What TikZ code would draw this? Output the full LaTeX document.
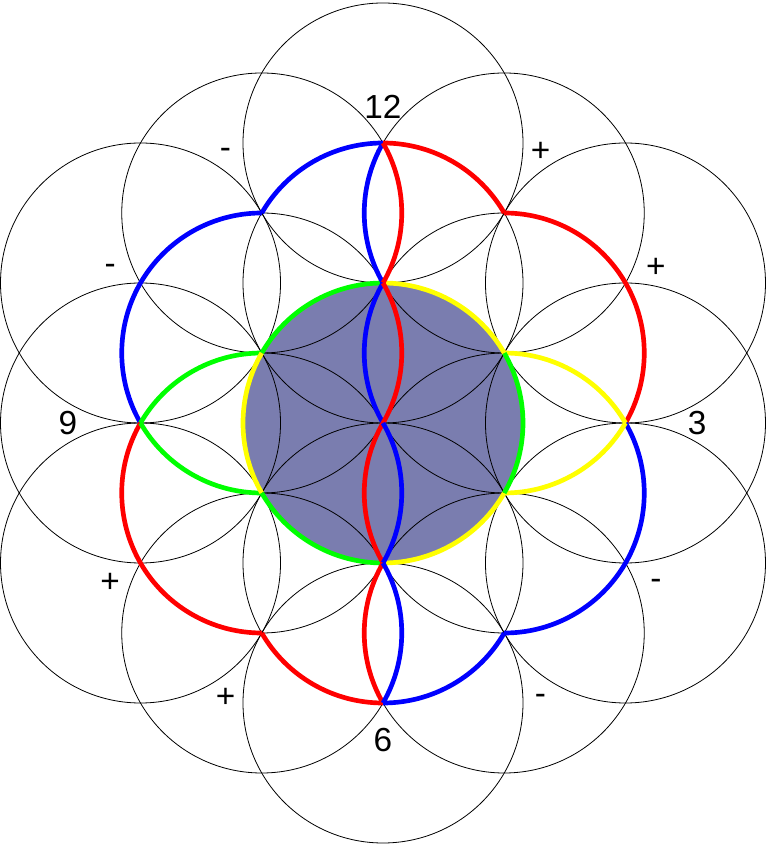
\documentclass[tikz,border=0pt]{standalone}
\usepackage{fontspec}
\setmainfont{Liberation Sans}
\begin{document}
\begin{tikzpicture}[x=105pt,y=105pt,
  thin circ/.style={draw=black,line width=0.6pt},
  carc/.style={line width=3.5pt},
  lbl/.style={font=\fontsize{25}{30}\selectfont,anchor=base,inner sep=0pt}]
\definecolor{slate}{RGB}{122,125,175}
\definecolor{cblue}{RGB}{0,0,255}
\definecolor{cred}{RGB}{255,0,0}
\definecolor{cgreen}{RGB}{0,255,0}
\definecolor{cyellow}{RGB}{255,255,0}
\useasboundingbox (-2.7357,-3.0143) rectangle (2.75,3.0214);
\fill[white] (-2.7357,-3.0143) rectangle (2.75,3.0214);
% lattice points
\coordinate (O) at (0,0);
\foreach \a in {30,90,150,210,270,330}{
  \coordinate (I\a) at (\a:1);
  \coordinate (T\a) at (\a:2);
}
\foreach \a in {0,60,120,180,240,300}{
  \coordinate (S\a) at (\a:1.7320508);
}
% central filled disc
\fill[slate] (O) circle[radius=1];
% black circles
\draw[thin circ] (O) circle[radius=1];
\foreach \a in {30,90,150,210,270,330}{
  \draw[thin circ] (I\a) circle[radius=1];
  \draw[thin circ] (T\a) circle[radius=1];
}
\foreach \a in {0,60,120,180,240,300}{
  \draw[thin circ] (S\a) circle[radius=1];
}
% outer coloured arcs
\draw[carc,cblue] (I90) ++(90:1) arc[start angle=90,end angle=150,radius=1];
\draw[carc,cblue] (I150) ++(90:1) arc[start angle=90,end angle=210,radius=1];
\draw[carc,cred] (I90) ++(90:1) arc[start angle=90,end angle=30,radius=1];
\draw[carc,cred] (I30) ++(90:1) arc[start angle=90,end angle=-30,radius=1];
\draw[carc,cred] (I210) ++(150:1) arc[start angle=150,end angle=270,radius=1];
\draw[carc,cred] (I270) ++(210:1) arc[start angle=210,end angle=270,radius=1];
\draw[carc,cblue] (I270) ++(270:1) arc[start angle=270,end angle=330,radius=1];
\draw[carc,cblue] (I330) ++(-90:1) arc[start angle=-90,end angle=30,radius=1];
% side lenses
\draw[carc,cgreen] (I210) ++(90:1) arc[start angle=90,end angle=150,radius=1];
\draw[carc,cgreen] (I150) ++(210:1) arc[start angle=210,end angle=270,radius=1];
\draw[carc,cyellow] (I330) ++(30:1) arc[start angle=30,end angle=90,radius=1];
\draw[carc,cyellow] (I30) ++(-90:1) arc[start angle=-90,end angle=-30,radius=1];
% central circle rim
\draw[carc,cgreen] (O) ++(90:1) arc[start angle=90,end angle=150,radius=1];
\draw[carc,cyellow] (O) ++(150:1) arc[start angle=150,end angle=210,radius=1];
\draw[carc,cgreen] (O) ++(210:1) arc[start angle=210,end angle=270,radius=1];
\draw[carc,cyellow] (O) ++(270:1) arc[start angle=270,end angle=330,radius=1];
\draw[carc,cgreen] (O) ++(-30:1) arc[start angle=-30,end angle=30,radius=1];
\draw[carc,cyellow] (O) ++(30:1) arc[start angle=30,end angle=90,radius=1];
% central vertical braid
\draw[carc,cblue] (S60) ++(150:1) arc[start angle=150,end angle=210,radius=1];
\draw[carc,cred] (S120) ++(30:1) arc[start angle=30,end angle=-30,radius=1];
\draw[carc,cblue] (I30) ++(150:1) arc[start angle=150,end angle=210,radius=1];
\draw[carc,cred] (I150) ++(30:1) arc[start angle=30,end angle=-30,radius=1];
\draw[carc,cred] (I330) ++(150:1) arc[start angle=150,end angle=210,radius=1];
\draw[carc,cblue] (I210) ++(30:1) arc[start angle=30,end angle=-30,radius=1];
\draw[carc,cred] (S300) ++(150:1) arc[start angle=150,end angle=210,radius=1];
\draw[carc,cblue] (S240) ++(30:1) arc[start angle=30,end angle=-30,radius=1];
% labels
\node[lbl,yshift=-8.9pt] (n12) at (90:2.257) {12};
\node[lbl,yshift=-8.9pt] (n3) at (0:2.243) {3};
\node[lbl,yshift=-8.9pt] (n6) at (-90:2.264) {6};
\node[lbl,yshift=-8.9pt] (n9) at (180:2.25) {9};
\node[lbl,yshift=-8.7pt] (p1) at (60:2.25) {+};
\node[lbl,yshift=-8.7pt] (p2) at (30:2.25) {+};
\node[lbl,yshift=-6.6pt] (m1) at (-30:2.25) {-};
\node[lbl,yshift=-6.6pt] (m2) at (-60:2.25) {-};
\node[lbl,yshift=-8.7pt] (p3) at (-120:2.25) {+};
\node[lbl,yshift=-8.7pt] (p4) at (-150:2.25) {+};
\node[lbl,yshift=-6.6pt] (m3) at (150:2.25) {-};
\node[lbl,yshift=-6.6pt] (m4) at (120:2.25) {-};
\end{tikzpicture}
\end{document}
